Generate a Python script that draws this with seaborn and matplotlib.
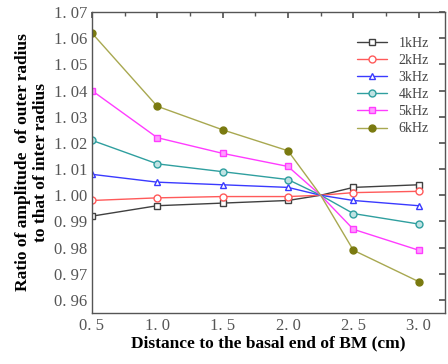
import matplotlib
matplotlib.use("Agg")
import matplotlib.pyplot as plt
import seaborn as sns
import pandas as pd
from matplotlib.ticker import MultipleLocator, FuncFormatter

# distances along the BM (2.25 is the crossing point, drawn without a marker)
distance = [0.5, 1.0, 1.5, 2.0, 2.25, 2.5, 3.0]
f1k = [0.992, 0.996, 0.997, 0.998, 1.000, 1.003, 1.004]
f2k = [0.998, 0.999, 0.9995, 0.9995, 1.000, 1.001, 1.0015]
f3k = [1.008, 1.005, 1.004, 1.003, 1.000, 0.998, 0.996]
f4k = [1.021, 1.012, 1.009, 1.006, 1.000, 0.993, 0.989]
f5k = [1.040, 1.022, 1.016, 1.011, 1.000, 0.987, 0.979]
f6k = [1.062, 1.034, 1.025, 1.017, 1.000, 0.979, 0.967]
labels = ["1kHz", "2kHz", "3kHz", "4kHz", "5kHz", "6kHz"]

series = [f1k, f2k, f3k, f4k, f5k, f6k]
rows = []
for lab, vals in zip(labels, series):
    for d, v in zip(distance, vals):
        rows.append({"Distance": d, "Ratio": v, "Freq": lab})
df = pd.DataFrame(rows)

colors = ["#404040", "#ff5a5a", "#3a3aff", "#2f9f9f", "#ff3cff", "#a8a850"]
markers = ["s", "o", "^", "o", "s", "o"]
facecols = ["white", "white", "white", "#bfe3e3", "#ff9cff", "#7a7a10"]
edgecols = ["#404040", "#ff5a5a", "#3a3aff", "#2f9f9f", "#ff3cff", "#7a7a10"]

sns.set_theme(style="white")
plt.rcParams["font.family"] = ["Liberation Serif", "DejaVu Serif"]

fig = plt.figure(figsize=(4.48, 3.64), dpi=100)
ax = fig.add_axes([0.205, 0.14, 0.788, 0.827])

marked = [0, 1, 2, 3, 5, 6]
for lab, c, m, fc, ec in zip(labels, colors, markers, facecols, edgecols):
    sub = df[df["Freq"] == lab]
    sns.lineplot(data=sub, x="Distance", y="Ratio", ax=ax, color=c, lw=1.0,
                 marker=m, markersize=5, markerfacecolor=fc, markeredgecolor=ec,
                 markeredgewidth=1.0, markevery=marked, label=lab)

ax.set_xlim(0.5, 3.2)
ax.set_ylim(0.955, 1.07)
ax.xaxis.set_major_locator(MultipleLocator(0.5))
ax.xaxis.set_minor_locator(MultipleLocator(0.25))
ax.yaxis.set_major_locator(MultipleLocator(0.01))
ax.xaxis.set_major_formatter(FuncFormatter(lambda v, p: ("%.1f" % v).replace(".", ". ")))
ax.yaxis.set_major_formatter(FuncFormatter(lambda v, p: ("%.2f" % v).replace(".", ". ")))
ax.tick_params(which="both", direction="in", top=True, right=True,
               labelsize=12, labelcolor="#555555", color="#555555")
ax.tick_params(which="major", length=4)
ax.tick_params(which="minor", length=3)
for s in ax.spines.values():
    s.set_color("#555555")
    s.set_linewidth(1.0)

ax.set_xlabel("Distance to the basal end of BM (cm)", fontsize=12.5,
              fontweight="bold", color="black", labelpad=1)
ax.set_ylabel("Ratio of amplitude  of outer radius\nto that of inter radius",
              fontsize=12.5, fontweight="bold", color="black", labelpad=3)

leg = ax.legend(loc="upper right", frameon=False, fontsize=10,
                handlelength=2.2, labelspacing=0.3, bbox_to_anchor=(0.99, 0.96))
for t in leg.get_texts():
    t.set_color("#444444")

fig.savefig("out.png", dpi=100)
